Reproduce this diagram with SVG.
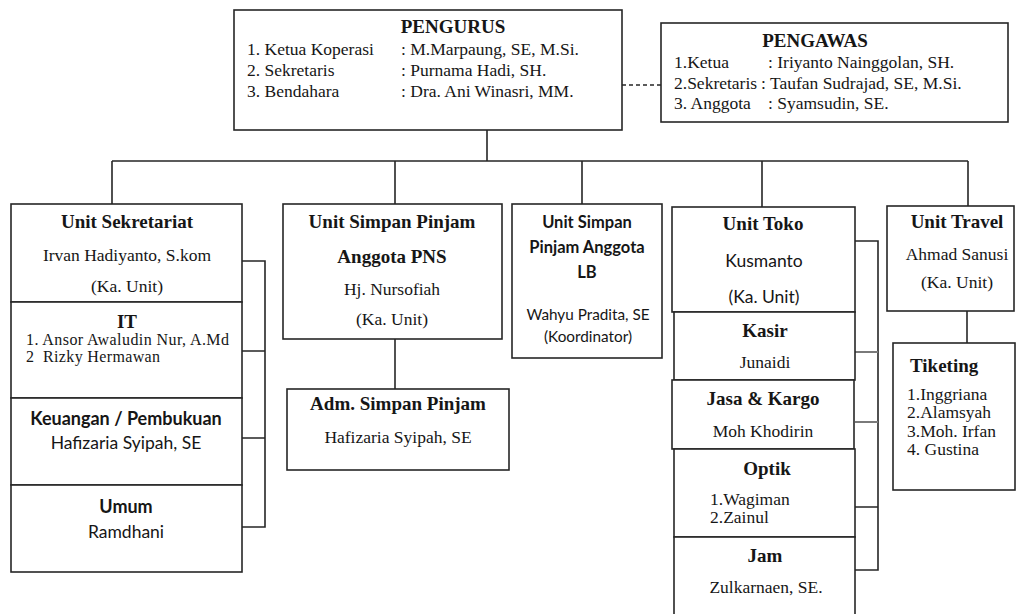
<svg xmlns="http://www.w3.org/2000/svg" width="1017" height="614" viewBox="0 0 1017 614">
<style>
.box{fill:#fff;stroke:#262626;stroke-width:1.6}
.ln{fill:none;stroke:#262626;stroke-width:1.6}
.gl{fill:none;stroke:#7a7a7a;stroke-width:2}
.dash{fill:none;stroke:#262626;stroke-width:1.3;stroke-dasharray:4 3}
.hs{font-family:"Liberation Serif","Times New Roman",serif;font-weight:bold;font-size:19px;fill:#161616}
.s{font-family:"Liberation Serif","Times New Roman",serif;font-size:17.5px;fill:#161616}
.ss{font-family:"Liberation Serif","Times New Roman",serif;font-size:16px;fill:#161616;white-space:pre}
.hc{font-family:Lato,"Open Sans",sans-serif;font-weight:bold;font-size:16.5px;fill:#161616}
.hcl{font-family:Lato,"Open Sans",sans-serif;font-weight:bold;font-size:18px;fill:#161616}
.c{font-family:Lato,"Open Sans",sans-serif;font-size:17.5px;fill:#161616}
.cs{font-family:Lato,"Open Sans",sans-serif;font-size:15.3px;fill:#161616}
.m{text-anchor:middle}
</style>
<g id="connectors">
<path class="ln" d="M487 130V161M112 161H968M112 161V204M395 161V204M582 161V204M762 161V207M968 161V206"/>
<path class="dash" d="M622 85H661"/>
<path class="ln" d="M242 261H265V527H242M242 351H265M242 438H265"/>
<path class="ln" d="M395 339V389"/>
<path class="ln" d="M855 241H878V570H855M855 507H878"/>
<path class="gl" d="M855 352H878M855 422H878"/>
<path class="ln" d="M967 311V343"/>
</g>
<g id="pengurus">
<rect class="box" x="234" y="10" width="388" height="120"/>
<text class="hs m" x="453" y="33">PENGURUS</text>
<text class="s" x="247" y="55">1. Ketua Koperasi</text>
<text class="s" x="247" y="76">2. Sekretaris</text>
<text class="s" x="247" y="97">3. Bendahara</text>
<text class="s" x="401" y="55">:  M.Marpaung, SE, M.Si.</text>
<text class="s" x="401" y="76">:  Purnama Hadi, SH.</text>
<text class="s" x="401" y="97">:  Dra. Ani Winasri, MM.</text>
</g>
<g id="pengawas">
<rect class="box" x="661" y="23" width="347" height="99"/>
<text class="hs m" x="815" y="47">PENGAWAS</text>
<text class="s" x="674" y="68">1.Ketua</text>
<text class="s" x="674" y="89">2.Sekretaris</text>
<text class="s" x="674" y="109">3. Anggota</text>
<text class="s" x="768" y="68">:  Iriyanto Nainggolan, SH.</text>
<text class="s" x="761" y="89">:  Taufan Sudrajad, SE, M.Si.</text>
<text class="s" x="768" y="109">:  Syamsudin, SE.</text>
</g>
<g id="unit-sekretariat">
<rect class="box" x="11" y="204" width="231" height="98"/>
<text class="hs m" x="127" y="228">Unit Sekretariat</text>
<text class="s m" x="127" y="261">Irvan Hadiyanto, S.kom</text>
<text class="s m" x="127" y="292">(Ka. Unit)</text>
</g>
<g id="it">
<rect class="box" x="11" y="302" width="231" height="96"/>
<text class="hs m" x="127" y="328">IT</text>
<text class="ss" x="26" y="345" textLength="203" lengthAdjust="spacing">1. Ansor Awaludin Nur, A.Md</text>
<text class="ss" x="26" y="362" textLength="134" lengthAdjust="spacing">2  Rizky Hermawan</text>
</g>
<g id="keuangan">
<rect class="box" x="11" y="398" width="231" height="87"/>
<text class="hcl m" x="126" y="425">Keuangan / Pembukuan</text>
<text class="c m" x="126" y="449">Hafizaria Syipah, SE</text>
</g>
<g id="umum">
<rect class="box" x="11" y="485" width="231" height="87"/>
<text class="hcl m" x="126" y="513">Umum</text>
<text class="c m" x="126" y="538">Ramdhani</text>
</g>
<g id="unit-simpan-pinjam-pns">
<rect class="box" x="283" y="204" width="219" height="135"/>
<text class="hs m" x="392" y="228">Unit Simpan Pinjam</text>
<text class="hs m" x="392" y="263">Anggota PNS</text>
<text class="s m" x="392" y="295">Hj. Nursofiah</text>
<text class="s m" x="392" y="325">(Ka. Unit)</text>
</g>
<g id="adm-simpan-pinjam">
<rect class="box" x="287" y="389" width="222" height="81"/>
<text class="hs m" x="398" y="410">Adm. Simpan Pinjam</text>
<text class="s m" x="398" y="443">Hafizaria Syipah, SE</text>
</g>
<g id="unit-simpan-pinjam-lb">
<rect class="box" x="512" y="204" width="150" height="154"/>
<text class="hc m" x="587" y="228">Unit Simpan</text>
<text class="hc m" x="587" y="253">Pinjam Anggota</text>
<text class="hc m" x="587" y="278">LB</text>
<text class="cs m" x="588" y="320">Wahyu Pradita, SE</text>
<text class="cs m" x="588" y="342">(Koordinator)</text>
</g>
<g id="unit-toko">
<rect class="box" x="672" y="207" width="183" height="105"/>
<text class="hs m" x="763" y="230">Unit Toko</text>
<text class="c m" x="764" y="267">Kusmanto</text>
<text class="c m" x="764" y="303">(Ka. Unit)</text>
</g>
<g id="kasir">
<rect class="box" x="674" y="312" width="181" height="68"/>
<text class="hs m" x="765" y="337">Kasir</text>
<text class="s m" x="765" y="368">Junaidi</text>
</g>
<g id="jasa-kargo">
<rect class="box" x="672" y="380" width="182" height="69"/>
<text class="hs m" x="763" y="405">Jasa &amp; Kargo</text>
<text class="s m" x="763" y="437">Moh Khodirin</text>
</g>
<g id="optik">
<rect class="box" x="674" y="449" width="181" height="88"/>
<text class="hs m" x="767" y="475">Optik</text>
<text class="s" x="710" y="505">1.Wagiman</text>
<text class="s" x="710" y="523">2.Zainul</text>
</g>
<g id="jam">
<rect class="box" x="674" y="537" width="181" height="90"/>
<text class="hs m" x="765" y="562">Jam</text>
<text class="s m" x="766" y="593">Zulkarnaen, SE.</text>
</g>
<g id="unit-travel">
<rect class="box" x="887" y="206" width="127" height="105"/>
<text class="hs m" x="957" y="228">Unit Travel</text>
<text class="s m" x="957" y="260">Ahmad Sanusi</text>
<text class="s m" x="957" y="288">(Ka. Unit)</text>
</g>
<g id="tiketing">
<rect class="box" x="893" y="343" width="122" height="147"/>
<text class="hs" x="910" y="372">Tiketing</text>
<text class="s" x="907" y="400">1.Inggriana</text>
<text class="s" x="907" y="418">2.Alamsyah</text>
<text class="s" x="907" y="437">3.Moh. Irfan</text>
<text class="s" x="907" y="455">4. Gustina</text>
</g>
</svg>
